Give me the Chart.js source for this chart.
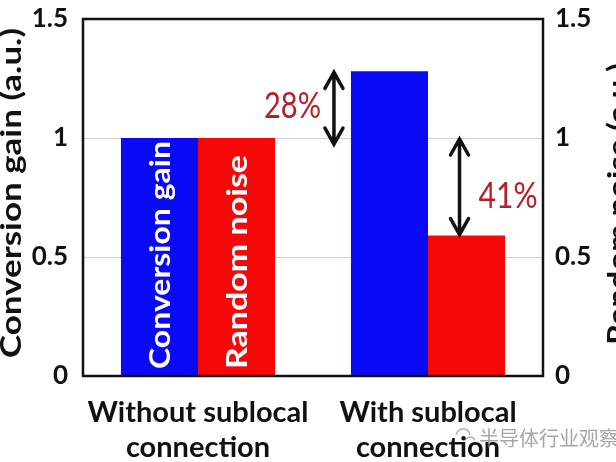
<!DOCTYPE html>
<html>
<head>
<meta charset="utf-8">
<script src="https://cdn.jsdelivr.net/npm/chart.js@4.4.0/dist/chart.umd.min.js"></script>
<style>
html, body { margin: 0; padding: 0; background: #fff; }
#wrap { width: 616px; height: 462px; position: relative; }
</style>
</head>
<body>
<div id="wrap"><canvas id="chart"></canvas></div>
<script>
// Dữ liệu
const categories = [['Without sublocal', 'connection'], ['With sublocal', 'connection']];
const conversionGain = [1, 1.28];
const randomNoise = [1, 0.59];
const yTickValues = [0, 0.5, 1, 1.5];
const yTickLabels = ['0', '0.5', '1', '1.5'];
const gainArrow = [0.97, 1.28];   // mũi tên 28%
const noiseArrow = [1.0, 0.59];   // mũi tên 41%
const arrowLabels = ['28%', '41%'];

const tickFont = { family: 'Lato', size: 26, weight: 'bold' };

function tickLabel(value) {
    const i = yTickValues.indexOf(value);
    return i >= 0 ? yTickLabels[i] : '';
}

// vẽ chữ, co giãn theo chiều ngang cho đúng độ dài mong muốn
function fillFitted(ctx, text, len) {
    const w = ctx.measureText(text).width;
    ctx.save();
    ctx.scale(len / w, 1);
    ctx.fillText(text, 0, 0);
    ctx.restore();
}

function drawArrow(ctx, x, y1, y2) {
    const top = Math.min(y1, y2), bottom = Math.max(y1, y2);
    ctx.save();
    ctx.strokeStyle = '#111';
    ctx.lineWidth = 3.5;
    ctx.lineCap = 'round';
    ctx.lineJoin = 'miter';
    ctx.beginPath();
    ctx.moveTo(x, top + 3);
    ctx.lineTo(x, bottom - 3);
    ctx.moveTo(x - 9, top + 17);
    ctx.lineTo(x, top + 1);
    ctx.lineTo(x + 9, top + 17);
    ctx.moveTo(x - 9, bottom - 17);
    ctx.lineTo(x, bottom - 1);
    ctx.lineTo(x + 9, bottom - 17);
    ctx.stroke();
    ctx.restore();
}

const annotationsPlugin = {
    id: 'annotations',
    afterDatasetsDraw(chart) {
        const ctx = chart.ctx;
        const area = chart.chartArea;
        const y = chart.scales.y;
        const blue = chart.getDatasetMeta(0).data;
        const red = chart.getDatasetMeta(1).data;

        // khung đen quanh vùng vẽ
        ctx.save();
        ctx.strokeStyle = '#111';
        ctx.lineWidth = 2.5;
        ctx.strokeRect(area.left, area.top, area.right - area.left, area.bottom - area.top);
        ctx.restore();

        // chữ trắng trong cột
        ctx.save();
        ctx.fillStyle = '#fff';
        ctx.font = 'bold 28px Lato';
        ctx.textAlign = 'left';
        ctx.textBaseline = 'middle';
        [[blue[0], 'Conversion gain', 228], [red[0], 'Random noise', 214]].forEach(([bar, text, len]) => {
            ctx.save();
            ctx.translate(bar.x + 1, area.bottom - 7);
            ctx.rotate(-Math.PI / 2);
            fillFitted(ctx, text, len);
            ctx.restore();
        });
        ctx.restore();

        // mũi tên + phần trăm
        const x1 = blue[1].x - blue[1].width / 2 - 17;
        drawArrow(ctx, x1, y.getPixelForValue(gainArrow[0]), y.getPixelForValue(gainArrow[1]));
        const x2 = red[1].x - 7;
        drawArrow(ctx, x2, y.getPixelForValue(noiseArrow[0]), y.getPixelForValue(noiseArrow[1]));

        ctx.save();
        ctx.fillStyle = '#b3202a';
        ctx.font = '36px Lato';
        ctx.textBaseline = 'middle';
        ctx.textAlign = 'left';
        ctx.save();
        ctx.translate(x1 - 70, y.getPixelForValue((gainArrow[0] + gainArrow[1]) / 2) - 2);
        fillFitted(ctx, arrowLabels[0], 57);
        ctx.restore();
        ctx.save();
        ctx.translate(x2 + 19, y.getPixelForValue((noiseArrow[0] + noiseArrow[1]) / 2) + 10);
        fillFitted(ctx, arrowLabels[1], 59);
        ctx.restore();
        ctx.restore();

        // tiêu đề trục (cả hai xoay -90°)
        ctx.save();
        ctx.fillStyle = '#111';
        ctx.font = 'bold 28px Lato';
        ctx.textAlign = 'left';
        ctx.textBaseline = 'middle';
        ctx.save();
        ctx.translate(12, 358);
        ctx.rotate(-Math.PI / 2);
        fillFitted(ctx, 'Conversion gain (a.u.)', 330);
        ctx.restore();
        ctx.save();
        ctx.translate(619, 345);
        ctx.rotate(-Math.PI / 2);
        fillFitted(ctx, 'Random noise (a.u.)', 282);
        ctx.restore();
        ctx.restore();

        // watermark
        ctx.save();
        ctx.globalAlpha = 0.75;
        ctx.strokeStyle = '#999';
        ctx.lineWidth = 1.5;
        ctx.beginPath();
        ctx.arc(463, 436, 7, Math.PI * 1.05, Math.PI * 1.95);
        ctx.stroke();
        ctx.beginPath();
        ctx.arc(470, 442, 5, Math.PI * 1.1, Math.PI * 1.9);
        ctx.stroke();
        ctx.fillStyle = '#888';
        ctx.font = '20px "Noto Sans CJK SC"';
        ctx.textAlign = 'left';
        ctx.textBaseline = 'middle';
        ctx.fillText('半导体行业观察', 479, 438);
        ctx.restore();
    }
};

function fitY(width) {
    return function (scale) {
        scale.width = width;
        scale.paddingTop = 0;
        scale.paddingBottom = 0;
    };
}

new Chart(document.getElementById('chart'), {
    type: 'bar',
    data: {
        labels: categories,
        datasets: [
            {
                label: 'Conversion gain',
                data: conversionGain,
                backgroundColor: '#0a0af5',
                yAxisID: 'y',
                categoryPercentage: 0.67,
                barPercentage: 1.0
            },
            {
                label: 'Random noise',
                data: randomNoise,
                backgroundColor: '#f70808',
                yAxisID: 'y2',
                categoryPercentage: 0.67,
                barPercentage: 1.0
            }
        ]
    },
    options: {
        responsive: true,
        maintainAspectRatio: false,
        animation: false,
        layout: { padding: { top: 19, left: 0, right: 0, bottom: 0 } },
        plugins: { legend: { display: false }, tooltip: { enabled: false } },
        scales: {
            x: {
                grid: { display: false },
                border: { display: false },
                ticks: { color: '#111', font: { family: 'Lato', size: 29, weight: 'bold', lineHeight: 1.2 }, padding: 11, maxRotation: 0 },
                afterFit(scale) { scale.height = 86; }
            },
            y: {
                position: 'left',
                min: 0, max: 1.5,
                afterBuildTicks(scale) { scale.ticks = yTickValues.map(v => ({ value: v })); },
                grid: { color: '#cfcfcf', lineWidth: 1, drawTicks: false },
                border: { display: false },
                ticks: { color: '#111', font: tickFont, padding: 15, callback: tickLabel },
                afterFit: fitY(83)
            },
            y2: {
                position: 'right',
                min: 0, max: 1.5,
                afterBuildTicks(scale) { scale.ticks = yTickValues.map(v => ({ value: v })); },
                grid: { display: false, drawTicks: false },
                border: { display: false },
                ticks: { color: '#111', font: tickFont, padding: 12, callback: tickLabel },
                afterFit: fitY(73)
            }
        }
    },
    plugins: [annotationsPlugin]
});
</script>
</body>
</html>
